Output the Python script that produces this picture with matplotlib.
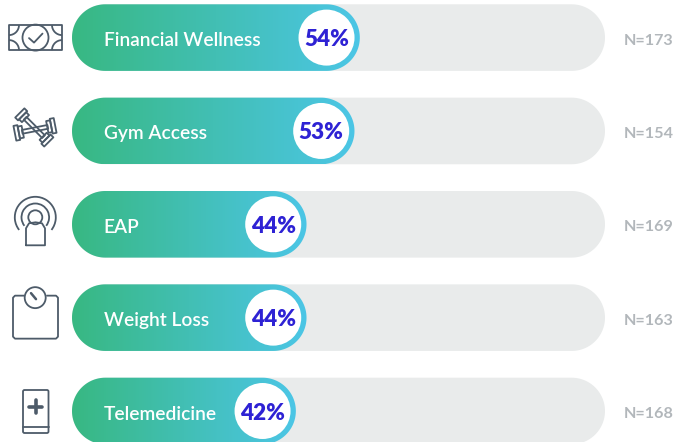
import numpy as np
import matplotlib
matplotlib.use('Agg')
import matplotlib.pyplot as plt
from matplotlib.colors import LinearSegmentedColormap
from matplotlib.patches import Arc, Circle, FancyBboxPatch, Polygon, Rectangle

# chart data
categories = ['Financial Wellness', 'Gym Access', 'EAP', 'Weight Loss', 'Telemedicine']
percents = [54, 53, 44, 44, 42]
n_counts = [173, 154, 169, 163, 168]

BAR_LEFT = 72
BAR_WIDTH = 533
BAR_HEIGHT = 66.6
FIRST_CENTER = 37.6
PITCH = 93.35
ICON = '#4d5b69'

plt.rcParams['font.family'] = ['Lato', 'DejaVu Sans']

fig = plt.figure(figsize=(6.75, 4.42), dpi=100)
ax = fig.add_axes([0, 0, 1, 1])
cmap = LinearSegmentedColormap.from_list('bar', ['#38b882', '#4cc6e6'])


def pill(x, y, w, h, **kw):
    # true semicircle ends, the "round" boxstyle comes out too square
    r = h / 2
    t = np.linspace(-np.pi / 2, np.pi / 2, 60)
    xs = np.r_[x + w - r + r * np.cos(t), x + r - r * np.cos(t[::-1])]
    ys = np.r_[y + r + r * np.sin(t), y + r + r * np.sin(t[::-1])]
    return Polygon(np.column_stack([xs, ys]), closed=True, linewidth=0, **kw)


def outline(patch):
    patch.set(fill=False, edgecolor=ICON, linewidth=1.3, joinstyle='round')
    ax.add_patch(patch)


def rot_rect(cx, cy, w, h, angle):
    a = np.radians(angle)
    corners = np.array([[-w, -h], [w, -h], [w, h], [-w, h]]) / 2
    rot = np.array([[np.cos(a), -np.sin(a)], [np.sin(a), np.cos(a)]])
    return Polygon(corners @ rot.T + [cx, cy], closed=True)


def line(xs, ys, lw=1.3):
    ax.plot(xs, ys, color=ICON, lw=lw, solid_capstyle='round')


def icon_money(cy):
    outline(Rectangle((9, cy - 12.5), 53, 25))
    outline(Circle((35.5, cy), 13))
    line([29, 34, 42.5], [cy + 0.5, cy + 5, cy - 4])
    for x, y, t1 in [(9, cy - 12.5, 0), (62, cy - 12.5, 90), (62, cy + 12.5, 180), (9, cy + 12.5, 270)]:
        outline(Arc((x, y), 20, 20, theta1=t1, theta2=t1 + 90))


def icon_gym(cy):
    # two crossed dumbbells
    for cx, cy2, ang, inner, outer in [(34.3, cy - 3.5, 45, 10, 13), (35, cy - 1.6, -11, 12, 15)]:
        a = np.radians(ang)
        d = np.array([np.cos(a), np.sin(a)])
        outline(rot_rect(cx, cy2, 26, 3.8, ang))
        for s in (-1, 1):
            for dist, length in [(14.5, inner), (18.5, outer)]:
                px, py = np.array([cx, cy2]) + s * dist * d
                outline(rot_rect(px, py, 4, length, ang))


def icon_eap(cy):
    c = (35.3, cy - 7)
    for r in (13.8, 20.5):
        outline(Arc(c, 2 * r, 2 * r, theta1=142, theta2=38))
    outline(Circle(c, 7))
    xs = [26, 26, 29, 35.5, 42, 45, 45, 26]
    ys = [cy + 21, cy + 4, cy - 1, cy - 2, cy - 1, cy + 4, cy + 21, cy + 21]
    line(xs, ys)


def icon_scale(cy):
    top, bot = cy - 22, cy + 21
    line([24, 15, 13, 13, 15, 56, 58, 58, 56, 47],
         [top, top, top + 2, bot - 2, bot, bot, bot - 2, top + 2, top, top])
    outline(Circle((35.2, cy - 20), 10.5))
    line([31, 36], [cy - 24.5, cy - 18.5], lw=1.8)


def icon_phone(cy):
    outline(FancyBboxPatch((23, cy - 21), 25.5, 43, boxstyle='round,pad=0,rounding_size=1.5'))
    line([23, 48.5], [cy + 16, cy + 16])
    line([28.7, 42.3], [cy - 4.5, cy - 4.5], lw=2.6)
    line([35.5, 35.5], [cy - 11.3, cy + 2.3], lw=2.6)


icons = [icon_money, icon_gym, icon_eap, icon_scale, icon_phone]

for i, (name, pct, n) in enumerate(zip(categories, percents, n_counts)):
    cy = FIRST_CENTER + i * PITCH
    top = cy - BAR_HEIGHT / 2
    ax.add_patch(pill(BAR_LEFT, top, BAR_WIDTH, BAR_HEIGHT, facecolor='#e9ebeb'))

    # value bar, gradient clipped to a pill shape
    end = BAR_LEFT + BAR_WIDTH * pct / 100
    shape = pill(BAR_LEFT, top, end - BAR_LEFT, BAR_HEIGHT, facecolor='none')
    ax.add_patch(shape)
    im = ax.imshow(np.linspace(0, 1, 256)[None, :], cmap=cmap, aspect='auto',
                   extent=(BAR_LEFT, end, top + BAR_HEIGHT, top), zorder=2)
    im.set_clip_path(shape)

    cx = end - BAR_HEIGHT / 2
    ax.add_patch(Circle((cx, cy), 28, facecolor='white', edgecolor='none', zorder=3))
    ax.text(cx, cy + 2, f'{pct}%', color='#2e22d4', fontsize=16.2, fontweight='heavy',
            ha='center', va='center', zorder=4)
    ax.text(103.5, cy + 3, name, color='white', fontsize=13.8, fontweight='semibold',
            ha='left', va='center', zorder=4)
    ax.text(624, cy + 3, f'N={n}', color='#b2b7bb', fontsize=11.6, fontweight='bold',
            ha='left', va='center')
    icons[i](cy)

ax.set_xlim(0, 675)
ax.set_ylim(442, 0)
ax.axis('off')

fig.savefig('out.png', dpi=100)
